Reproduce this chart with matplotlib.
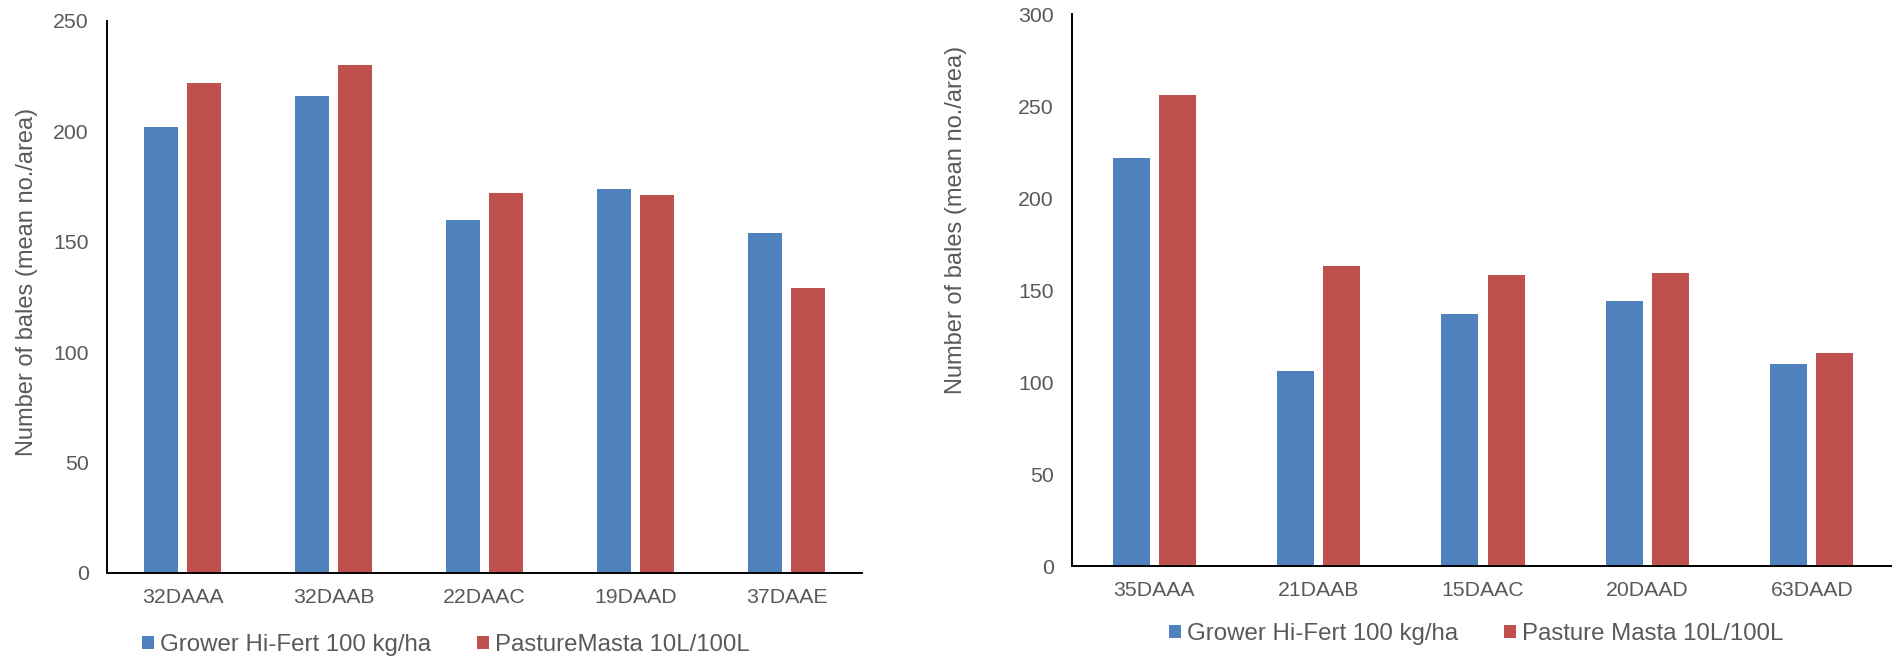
import matplotlib
matplotlib.use('Agg')
import matplotlib.pyplot as plt
import numpy as np

# donnees
sites_gauche = ['32DAAA', '32DAAB', '22DAAC', '19DAAD', '37DAAE']
grower_gauche = [202, 216, 160, 174, 154]
pasture_gauche = [222, 230, 172, 171, 129]

sites_droite = ['35DAAA', '21DAAB', '15DAAC', '20DAAD', '63DAAD']
grower_droite = [222, 106, 137, 144, 110]
pasture_droite = [256, 163, 158, 159, 116]

noms_gauche = ['Grower Hi-Fert 100 kg/ha', 'PastureMasta 10L/100L']
noms_droite = ['Grower Hi-Fert 100 kg/ha', 'Pasture Masta 10L/100L']
ylabel = 'Number of bales (mean no./area)'

BLEU = '#4F81BD'
ROUGE = '#C0504D'
GRIS = '#595959'

plt.rcParams['font.family'] = ['Liberation Sans', 'DejaVu Sans']

fig = plt.figure(figsize=(18.92, 6.62), dpi=100)


def tracer(ax, sites, val_a, val_b, noms, ymax, label_xy, leg_xy):
    x = np.arange(len(sites)) + 0.5
    w = 0.225
    ax.bar(x - 0.14, val_a, width=w, color=BLEU, label=noms[0])
    ax.bar(x + 0.14, val_b, width=w, color=ROUGE, label=noms[1])
    ax.set_xlim(0, len(sites))
    ax.set_ylim(0, ymax)
    ax.set_yticks(range(0, ymax + 1, 50))
    ax.set_xticks(x)
    ax.set_xticklabels(sites)
    for s in ['top', 'right']:
        ax.spines[s].set_visible(False)
    for s in ['left', 'bottom']:
        ax.spines[s].set_linewidth(1.4)
        ax.spines[s].set_color('black')
    ax.tick_params(axis='y', length=0, pad=13, colors=GRIS, labelsize=15.3)
    ax.tick_params(axis='x', length=0, pad=11, colors=GRIS, labelsize=15.3)
    ax.set_ylabel(ylabel, color=GRIS, fontsize=17)
    ax.yaxis.set_label_coords(*label_xy)
    ax.legend(loc='center', bbox_to_anchor=leg_xy, bbox_transform=fig.transFigure,
              ncol=2, frameon=False, handlelength=0.5, handleheight=0.5,
              handletextpad=0.25, columnspacing=1.9, labelcolor=GRIS, fontsize=17.3)


ax1 = fig.add_axes([107 / 1892, 1 - 573 / 662, 755 / 1892, 552 / 662])
tracer(ax1, sites_gauche, grower_gauche, pasture_gauche, noms_gauche, 250,
       (-0.091, 0.527), (446 / 1892, 1 - 645 / 662))

ax2 = fig.add_axes([1072 / 1892, 1 - 566 / 662, 822 / 1892, 552 / 662])
tracer(ax2, sites_droite, grower_droite, pasture_droite, noms_droite, 300,
       (-0.128, 0.627), (1476 / 1892, 1 - 634 / 662))

fig.savefig('out.png', dpi=100)
